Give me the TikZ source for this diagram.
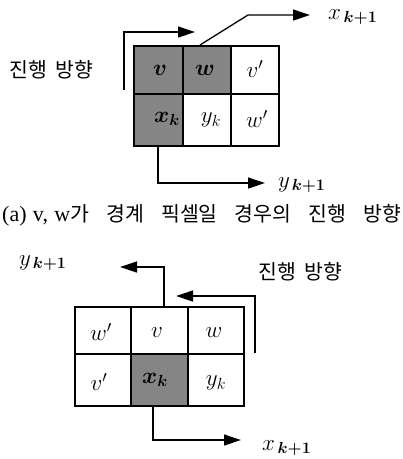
\RequirePackage{fix-cm}
\documentclass[tikz,border=0pt]{standalone}
\usepackage{fontspec}
\usepackage{amsmath,bm}
\usetikzlibrary{arrows.meta}
\setmainfont{Liberation Serif}
\newfontfamily\kr{Noto Sans CJK KR}
% Hangul text with wide word gaps
\newcommand\krtext[1]{{\kr\fontsize{20.5}{24}\selectfont\spaceskip=0.4em plus 1.5em\relax #1}}
\tikzset{
  cell/.style={draw=black, line width=1.6pt, minimum width=#1, inner sep=0pt, anchor=north west},
  cell/.default=48pt,
  shade/.style={fill=black!48},
  lbl/.style={inner sep=0pt, font=\fontsize{23}{26}\selectfont},
  klbl/.style={inner sep=0pt, anchor=west},
  flow/.style={line width=1.3pt, -{Triangle[length=17pt,width=11pt]}},
}
\begin{document}
\begin{tikzpicture}[x=1pt,y=-1pt]
\useasboundingbox (0,0) rectangle (403,459);

% ---------- upper grid ----------
\node[cell=49pt, shade, minimum height=48pt] (tv)  at (133,45) {};
\node[cell=48pt, shade, minimum height=48pt] (tw)  at (182,45) {};
\node[cell=48pt, minimum height=48pt]        (tvp) at (230,45) {};
\node[cell=49pt, shade, minimum height=52pt] (tx)  at (133,93) {};
\node[cell=48pt, minimum height=52pt]        (ty)  at (182,93) {};
\node[cell=48pt, minimum height=52pt]        (twp) at (230,93) {};

\node[lbl] (tvl)  at (160,70)  {$\bm{v}$};
\node[lbl] (twl)  at (205,70)  {$\bm{w}$};
\node[lbl] (tvpl) at (255,69)  {$v'$};
\node[lbl] (txl)  at (167,119) {$\bm{x_k}$};
\node[lbl] (tyl)  at (211,120) {$y_k$};
\node[lbl] (twpl) at (257,119) {$w'$};

\coordinate (tpa) at (124,90);
\coordinate (tpb) at (124,32);
\coordinate (tpc) at (195,32);
\draw[flow] (tpa) -- (tpb) -- (tpc);
\node[klbl] (tdir) at (9,70) {\krtext{\hbox to 84pt{진행 방향}}};

\coordinate (txa) at (200,45);
\coordinate (txb) at (248,15);
\coordinate (txc) at (310,15);
\draw[flow] (txa) -- (txb) -- (txc);
\node[lbl, anchor=west] (txn) at (328,17) {$x_{\,\bm{k+1}}$};

\coordinate (tya) at (158,145);
\coordinate (tyb) at (158,183);
\coordinate (tyc) at (265,183);
\draw[flow] (tya) -- (tyb) -- (tyc);
\node[lbl, anchor=west] (tyn) at (278,185) {$y_{\,\bm{k+1}}$};

% ---------- caption ----------
\node[inner sep=0pt, anchor=west, font=\fontsize{22}{26}\selectfont] (cap) at (2,215)
  {\hbox to 399pt{(a) v, w\krtext{가 경계 픽셀일 경우의 진행 방향}}};

% ---------- lower grid ----------
\node[cell=56pt, minimum height=47pt]        (bwp) at (74,306)  {};
\node[cell=57pt, minimum height=47pt]        (bv)  at (130,306) {};
\node[cell=56pt, minimum height=47pt]        (bw)  at (187,306) {};
\node[cell=56pt, minimum height=52pt]        (bvp) at (74,353)  {};
\node[cell=57pt, shade, minimum height=52pt] (bx)  at (130,353) {};
\node[cell=56pt, minimum height=52pt]        (by)  at (187,353) {};

\node[lbl] (bwpl) at (101,332) {$w'$};
\node[lbl] (bvl)  at (157,333) {$v$};
\node[lbl] (bwl)  at (214,333) {$w$};
\node[lbl] (bvpl) at (99,382)  {$v'$};
\node[lbl] (bxl)  at (155,380) {$\bm{x_k}$};
\node[lbl] (byl)  at (216,383) {$y_k$};

\coordinate (bya) at (164,306);
\coordinate (byb) at (164,267);
\coordinate (byc) at (120,267);
\draw[flow] (bya) -- (byb) -- (byc);
\node[lbl, anchor=west] (byn) at (19,263) {$y_{\,\bm{k+1}}$};

\coordinate (bpa) at (255,353);
\coordinate (bpb) at (255,296);
\coordinate (bpc) at (176,296);
\draw[flow] (bpa) -- (bpb) -- (bpc);
\node[klbl] (bdir) at (258,272) {\krtext{\hbox to 84pt{진행 방향}}};

\coordinate (bxa) at (153,405);
\coordinate (bxb) at (153,440);
\coordinate (bxc) at (241,440);
\draw[flow] (bxa) -- (bxb) -- (bxc);
\node[lbl, anchor=west] (bxn) at (262,448) {$x_{\,\bm{k+1}}$};
\end{tikzpicture}
\end{document}
